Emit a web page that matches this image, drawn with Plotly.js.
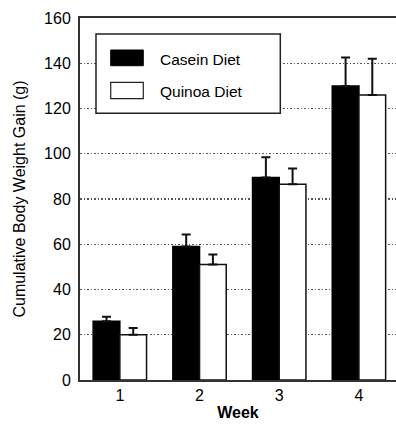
<!DOCTYPE html>
<html>
<head>
<meta charset="utf-8">
<script src="https://cdn.plot.ly/plotly-3.0.1.min.js"></script>
<style>html,body{margin:0;padding:0;background:#fff;}#chart{width:396px;height:424px;}</style>
</head>
<body>
<div id="chart"></div>
<script>
const weeks = ['1', '2', '3', '4'];
const seriesNames = ['Casein Diet', 'Quinoa Diet'];
const caseinGain = [26, 59, 89.5, 130];
const caseinSE = [2, 5.3, 9, 12.5];
const quinoaGain = [20, 51, 86.5, 126];
const quinoaSE = [3, 4.5, 7, 16];
const yTicks = [0, 20, 40, 60, 80, 100, 120, 140, 160];

const FONT = 'Liberation Sans, Arial, Helvetica, sans-serif';

const traces = [
  {
    type: 'bar', name: seriesNames[0], x: weeks, y: caseinGain,
    marker: {color: '#000', line: {color: '#000', width: 1.5}},
    error_y: {type: 'data', symmetric: false, array: caseinSE, arrayminus: caseinSE.map(() => 0),
              color: '#111', thickness: 2, width: 4.5},
    showlegend: false
  },
  {
    type: 'bar', name: seriesNames[1], x: weeks, y: quinoaGain,
    marker: {color: '#fff', line: {color: '#111', width: 1.5}},
    error_y: {type: 'data', symmetric: false, array: quinoaSE, arrayminus: quinoaSE.map(() => 0),
              color: '#111', thickness: 2, width: 4.5},
    showlegend: false
  }
];

const layout = {
  width: 396, height: 424,
  margin: {l: 80, r: 0, t: 18, b: 44},
  paper_bgcolor: '#fff', plot_bgcolor: '#fff',
  font: {family: FONT, size: 16, color: '#000'},
  barmode: 'group', bargap: 0.33, bargroupgap: 0,
  showlegend: false,
  xaxis: {
    type: 'category', range: [-0.5, 3.465],
    showline: true, linecolor: '#333', linewidth: 2, mirror: true,
    showgrid: false, zeroline: false, ticks: '',
    tickfont: {family: FONT, size: 16, color: '#000'},
    title: {text: 'Week', font: {family: FONT, size: 16, color: '#000', weight: 'bold'}, standoff: 4}
  },
  yaxis: {
    range: [0, 160], tickvals: yTicks, ticktext: yTicks.map(String),
    showline: true, linecolor: '#333', linewidth: 2,
    showgrid: true, gridcolor: '#555', gridwidth: 1.3, griddash: '1.5px,2px',
    zeroline: false, ticks: '', ticklabelstandoff: 4,
    tickfont: {family: FONT, size: 16, color: '#000'},
    title: {text: 'Cumulative Body Weight Gain (g)', font: {family: FONT, size: 16, color: '#000'}, standoff: 14}
  },
  shapes: [
    {type: 'rect', xref: 'paper', yref: 'paper', x0: 0.0506, x1: 0.6339, y0: 0.7367, y1: 0.9558,
     fillcolor: '#fff', line: {color: '#222', width: 1.5}, layer: 'above'},
    {type: 'rect', xref: 'paper', yref: 'paper', x0: 0.0972, x1: 0.2003, y0: 0.8682, y1: 0.9116,
     fillcolor: '#000', line: {color: '#000', width: 1}, layer: 'above'},
    {type: 'rect', xref: 'paper', yref: 'paper', x0: 0.0972, x1: 0.2003, y0: 0.7771, y1: 0.8224,
     fillcolor: '#fff', line: {color: '#222', width: 1.2}, layer: 'above'}
  ],
  annotations: [
    {xref: 'paper', yref: 'paper', x: 0.247, y: 0.884, xanchor: 'left', yanchor: 'middle',
     text: seriesNames[0], showarrow: false, font: {family: FONT, size: 15.5, color: '#000'}},
    {xref: 'paper', yref: 'paper', x: 0.247, y: 0.797, xanchor: 'left', yanchor: 'middle',
     text: seriesNames[1], showarrow: false, font: {family: FONT, size: 15.5, color: '#000'}}
  ]
};

Plotly.newPlot('chart', traces, layout, {displayModeBar: false, staticPlot: true});
</script>
</body>
</html>
